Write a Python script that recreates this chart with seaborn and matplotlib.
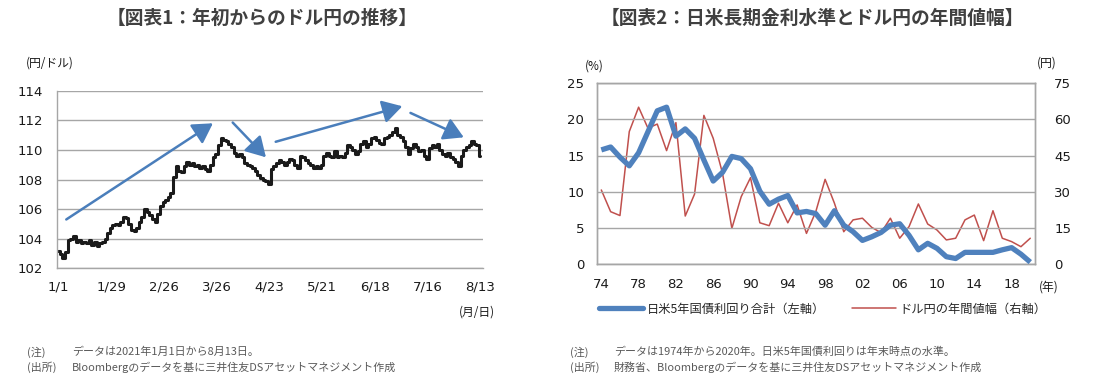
import matplotlib
matplotlib.use("Agg")
import matplotlib.pyplot as plt
from matplotlib.lines import Line2D
import seaborn as sns
import pandas as pd
import numpy as np

# ---------------- data ----------------
# Chart 1: USD/JPY daily close (trading days, 2021-01-01 .. 2021-08-13)
usdjpy = [
    103.2, 103.0, 102.7, 103.1, 103.9, 104.0,
    104.2, 103.8, 103.9, 103.7, 103.8,
    103.7, 103.9, 103.6, 103.8, 103.5,
    103.7, 103.8, 104.0, 104.4, 104.7,
    104.9, 105.0, 104.9, 105.1, 105.5,
    105.4, 105.0, 104.6, 104.5, 104.7,
    105.1, 105.5, 106.0, 105.8, 105.6,
    105.3, 105.1, 105.7, 106.2, 106.5,
    106.6, 106.8, 107.1, 108.2, 108.9,
    108.6, 108.5, 108.9, 109.2, 109.0,
    109.1, 108.9, 109.0, 108.8, 108.9,
    108.7, 108.6, 109.0, 109.5, 109.7,
    110.3, 110.8, 110.7, 110.6, 110.4,
    110.2, 109.8, 109.6, 109.7, 109.5,
    109.1, 109.0, 108.9, 108.8, 108.6,
    108.3, 108.1, 108.0, 107.9, 107.7,
    108.7, 108.9, 109.1, 109.3, 109.2,
    109.0, 109.2, 109.4, 109.3, 109.0,
    108.8, 109.6, 109.5, 109.3, 109.1,
    109.0, 108.8, 108.9, 108.8, 109.0,
    109.6, 109.8, 109.6, 109.5, 109.9,
    109.5, 109.6, 109.5, 109.8, 110.3,
    110.2, 110.0, 109.7, 109.9, 110.4,
    110.6, 110.2, 110.4, 110.8, 110.9,
    110.7, 110.5, 110.4, 110.8, 110.9,
    111.0, 111.2, 111.5, 111.0, 110.9,
    110.6, 110.2, 109.7, 110.1, 110.4,
    110.2, 109.9, 110.0, 109.6, 109.4,
    110.1, 110.3, 110.2, 110.4, 110.0,
    109.7, 109.6, 109.8, 109.5, 109.4,
    109.2, 108.9, 109.6, 110.0, 110.2,
    110.3, 110.6, 110.4, 110.3, 109.6,
]
date_labels = ["1/1", "1/29", "2/26", "3/26", "4/23", "5/21", "6/18", "7/16", "8/13"]
# trend arrows (start day, start value, end day, end value)
arrows = [
    (3.0, 105.3, 58.6, 111.8),
    (66.1, 111.85, 78.7, 109.5),
    (82.4, 110.55, 130.4, 112.95),
    (133.5, 112.5, 153.7, 110.85),
]

# Chart 2
years = list(range(1974, 2021))
yield_sum = [15.8, 16.2, 14.8, 13.6, 15.4, 18.3, 21.2, 21.7, 17.7, 18.7,
             17.4, 14.4, 11.5, 12.7, 14.9, 14.6, 13.2, 10.1, 8.3, 9.0,
             9.5, 7.1, 7.3, 7.0, 5.4, 7.4, 5.4, 4.5, 3.3, 3.8,
             4.4, 5.4, 5.6, 4.0, 2.0, 2.9, 2.2, 1.05, 0.8, 1.65,
             1.65, 1.65, 1.65, 2.0, 2.3, 1.4, 0.3]
yen_range = [30.8, 21.8, 20.2, 55.0, 65.1, 56.4, 58.1, 47.1, 58.7, 20.0,
             29.1, 61.7, 52.2, 37.7, 14.9, 28.0, 35.9, 17.2, 16.0, 25.3,
             17.2, 24.6, 12.8, 21.8, 35.2, 25.3, 13.5, 18.4, 19.1, 15.3,
             13.1, 19.1, 10.8, 15.6, 25.0, 16.7, 14.2, 10.1, 10.8, 18.4,
             20.4, 9.8, 22.2, 10.8, 9.4, 7.3, 10.8]

# ---------------- style ----------------
sns.set_theme(style="white")
plt.rcParams['font.family'] = ['Noto Sans CJK JP', 'DejaVu Sans']
NUM = ['DejaVu Sans']
TXT = '#404040'
GRID = '#A6A6A6'
BLUE = '#4F81BD'
RED = '#C0504D'
ARROW = '#4A7EBB'

fig = plt.figure(figsize=(10.99, 3.81), dpi=100)

# ---------------- chart 1 ----------------
ax1 = fig.add_axes([0.0519, 0.2958, 0.3876, 0.4661])
df1 = pd.DataFrame({"day": np.arange(len(usdjpy)), "rate": usdjpy})
sns.lineplot(data=df1, x="day", y="rate", ax=ax1, color='#1a1a1a', lw=2.2,
             drawstyle='steps-mid')
ax1.set_xlim(-0.5, 161)
ax1.set_ylim(102, 114)
ax1.set_yticks(range(102, 115, 2))
ax1.set_xticks(np.arange(0, 161, 20))
ax1.set_xticklabels(date_labels)
ax1.yaxis.grid(True, color=GRID, lw=1)
ax1.set_axisbelow(True)
for s in ['top', 'right']:
    ax1.spines[s].set_visible(False)
for s in ['left', 'bottom']:
    ax1.spines[s].set_color(GRID)
    ax1.spines[s].set_linewidth(1)
ax1.tick_params(axis='x', direction='in', length=4, color=GRID, pad=9, labelsize=9.5)
ax1.tick_params(axis='y', length=0, pad=10, labelsize=9.5)
for lab in ax1.get_xticklabels() + ax1.get_yticklabels():
    lab.set_fontfamily(NUM)
    lab.set_color('#1a1a1a')
ax1.set_xlabel("")
ax1.set_ylabel("")
for (x0, y0, x1, y1) in arrows:
    ax1.annotate("", xy=(x1, y1), xytext=(x0, y0),
                 arrowprops=dict(arrowstyle='-|>,head_length=0.6,head_width=0.35',
                                 color=ARROW, lw=1.8,
                                 mutation_scale=20, shrinkA=0, shrinkB=0))

fig.text(262 / 1099, 1 - 18 / 381, "【図表1：年初からのドル円の推移】", ha='center', va='center',
         fontsize=13.5, fontweight='bold', color=TXT)
fig.text(50 / 1099, 1 - 63 / 381, "(円/ドル)", ha='center', va='center', fontsize=8.5, color='#1a1a1a')
fig.text(477 / 1099, 1 - 312 / 381, "(月/日)", ha='center', va='center', fontsize=8.5, color='#1a1a1a')

# ---------------- chart 2 ----------------
ax2 = fig.add_axes([0.5429, 0.3063, 0.3988, 0.4751])
ax3 = ax2.twinx()
idx = np.arange(len(years))
df2 = pd.DataFrame({"i": idx, "yield": yield_sum, "range": yen_range})
sns.lineplot(data=df2, x="i", y="yield", ax=ax2, color=BLUE, lw=3.8,
             solid_capstyle='butt', zorder=3)
sns.lineplot(data=df2, x="i", y="range", ax=ax3, color=RED, lw=1.1, zorder=2)
ax2.set_zorder(ax3.get_zorder() + 1)
ax2.patch.set_visible(False)
ax2.set_xlim(-0.5, len(years) - 0.5)
ax2.set_ylim(0, 25)
ax3.set_ylim(0, 75)
ax2.set_yticks(range(0, 26, 5))
ax3.set_yticks(range(0, 76, 15))
ax2.set_xticks(idx[::4])
ax2.set_xticklabels([f"{y % 100:02d}" for y in years[::4]])
ax2.set_xticks(np.arange(3.5, len(years), 4), minor=True)
ax3.yaxis.grid(False)
ax2.yaxis.grid(True, color=GRID, lw=1)
ax2.xaxis.grid(False)
for a in (ax2, ax3):
    for s in a.spines.values():
        s.set_color(GRID)
        s.set_linewidth(1)
    a.set_xlabel("")
    a.set_ylabel("")
ax2.tick_params(axis='x', which='major', length=0, pad=10, labelsize=9.5)
ax2.tick_params(axis='x', which='minor', direction='in', length=4, color=GRID)
ax2.tick_params(axis='y', length=0, pad=9, labelsize=9.5)
ax3.tick_params(axis='y', length=0, pad=14, labelsize=9.5)
for lab in ax2.get_xticklabels() + ax2.get_yticklabels() + ax3.get_yticklabels():
    lab.set_fontfamily(NUM)
    lab.set_color('#1a1a1a')

fig.text(812 / 1099, 1 - 18 / 381, "【図表2：日米長期金利水準とドル円の年間値幅】", ha='center', va='center',
         fontsize=13.5, fontweight='bold', color=TXT)
fig.text(594 / 1099, 1 - 66 / 381, "(%)", ha='center', va='center', fontsize=8.5, color='#1a1a1a')
fig.text(1047 / 1099, 1 - 63 / 381, "(円)", ha='center', va='center', fontsize=8.5, color='#1a1a1a')
fig.text(1049 / 1099, 1 - 287 / 381, "(年)", ha='center', va='center', fontsize=8.5, color='#1a1a1a')

handles = [Line2D([], [], color=BLUE, lw=3.8, solid_capstyle='round'),
           Line2D([], [], color=RED, lw=1.1)]
fig.legend(handles, ["日米5年国債利回り合計（左軸）", "ドル円の年間値幅（右軸）"],
           loc='center', bbox_to_anchor=(823 / 1099, 1 - 309 / 381), ncol=2, frameon=False,
           fontsize=8.8, handlelength=3.6, handletextpad=0.3, columnspacing=2.2)

# ---------------- footnotes ----------------
NOTE = '#595959'
FN = 7.9
fig.text(27 / 1099, 1 - 352 / 381, "(注)", ha='left', va='center', fontsize=FN, color=NOTE)
fig.text(72 / 1099, 1 - 352 / 381, "データは2021年1月1日から8月13日。", ha='left', va='center', fontsize=FN, color=NOTE)
fig.text(27 / 1099, 1 - 367 / 381, "(出所)", ha='left', va='center', fontsize=FN, color=NOTE)
fig.text(72 / 1099, 1 - 367 / 381, "Bloombergのデータを基に三井住友DSアセットマネジメント作成", ha='left', va='center', fontsize=FN, color=NOTE)

fig.text(570 / 1099, 1 - 352 / 381, "(注)", ha='left', va='center', fontsize=FN, color=NOTE)
fig.text(614 / 1099, 1 - 352 / 381, "データは1974年から2020年。日米5年国債利回りは年末時点の水準。", ha='left', va='center', fontsize=FN, color=NOTE)
fig.text(570 / 1099, 1 - 367 / 381, "(出所)", ha='left', va='center', fontsize=FN, color=NOTE)
fig.text(614 / 1099, 1 - 367 / 381, "財務省、Bloombergのデータを基に三井住友DSアセットマネジメント作成", ha='left', va='center', fontsize=FN, color=NOTE)

fig.savefig("out.png", dpi=100, facecolor='white')
